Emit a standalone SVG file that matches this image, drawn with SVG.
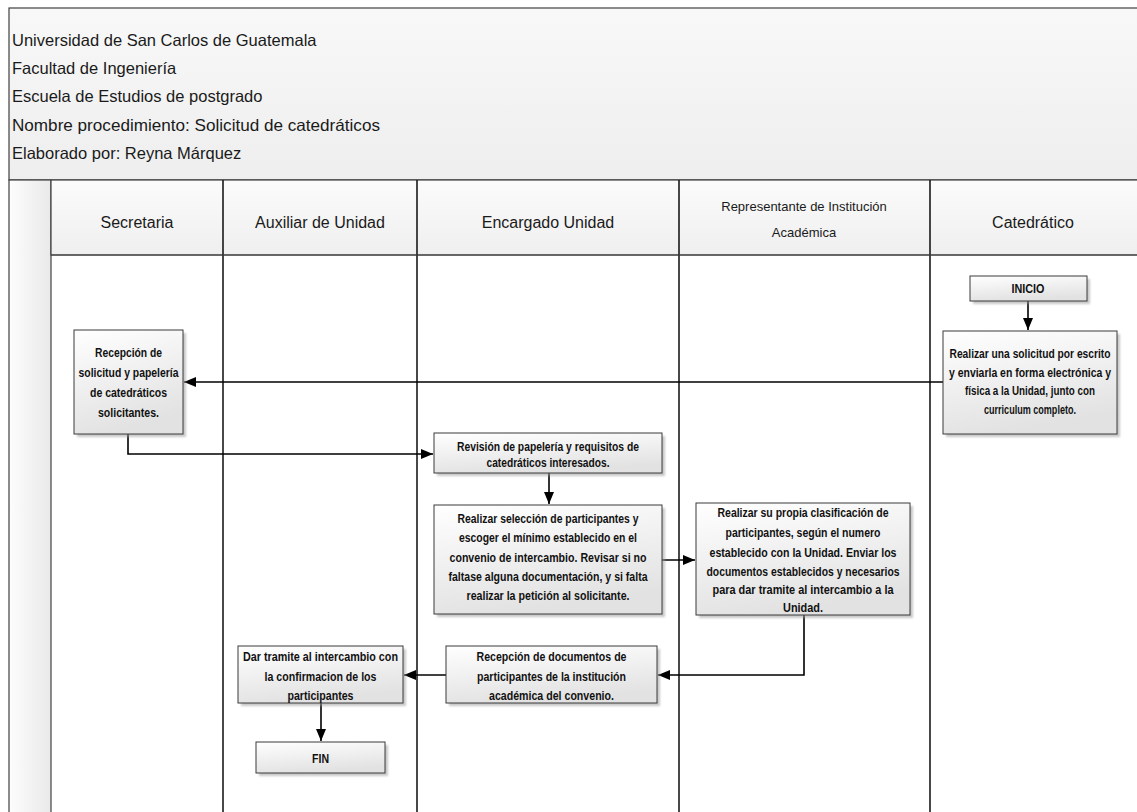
<svg xmlns="http://www.w3.org/2000/svg" width="1137" height="812" viewBox="0 0 1137 812">
<style>
.title{font-family:"Liberation Sans",Arial,sans-serif;font-size:16.5px;fill:#1a1a1a}
.lane{font-family:"Liberation Sans",Arial,sans-serif;font-size:16px;fill:#1a1a1a;text-anchor:middle}
.lanes{font-family:"Liberation Sans",Arial,sans-serif;font-size:13px;fill:#1a1a1a;text-anchor:middle}
.box{fill:url(#boxg);stroke:#3a3a3a;stroke-width:1}
.shadow{fill:#9a9a9a;opacity:.55;filter:url(#blur)}
.t{font-family:"Liberation Sans",Arial,sans-serif;font-size:12.5px;font-weight:bold;fill:#111;text-anchor:middle}
.lline{stroke:#1a1a1a;stroke-width:1.6;fill:none}
.bline{stroke:#444;stroke-width:1;fill:none}
.conn{stroke:#000;stroke-width:1.6;fill:none}
</style>
<defs>
<linearGradient id="boxg" x1="0" y1="0" x2="0.3" y2="1">
<stop offset="0" stop-color="#ffffff"/>
<stop offset="1" stop-color="#e2e2e2"/>
</linearGradient>
<linearGradient id="titleg" x1="0" y1="0" x2="0" y2="1">
<stop offset="0" stop-color="#f8f8f8"/>
<stop offset="1" stop-color="#eeeeee"/>
</linearGradient>
<linearGradient id="headg" x1="0" y1="0" x2="0" y2="1">
<stop offset="0" stop-color="#fbfbfb"/>
<stop offset="1" stop-color="#efefef"/>
</linearGradient>
<linearGradient id="stripg" x1="0" y1="0" x2="1" y2="0">
<stop offset="0" stop-color="#fdfdfd"/>
<stop offset="1" stop-color="#e9e9e9"/>
</linearGradient>
<filter id="blur" x="-10%" y="-10%" width="130%" height="130%">
<feGaussianBlur stdDeviation="1.2"/>
</filter>
<marker id="arr" viewBox="0 0 12 10" refX="12" refY="5" markerWidth="12" markerHeight="10" markerUnits="userSpaceOnUse" orient="auto">
<path d="M0,0 L12,5 L0,10 z" fill="#000"/>
</marker>
</defs>

<rect x="0" y="0" width="1137" height="812" fill="#ffffff"/>

<g id="frame">
<rect x="9" y="8" width="1140" height="172" fill="url(#titleg)" stroke="#404040" stroke-width="1.2"/>
<rect x="9" y="180" width="42" height="640" fill="url(#stripg)" stroke="#404040" stroke-width="1.2"/>
<rect x="51" y="180" width="1100" height="75" fill="url(#headg)" stroke="#404040" stroke-width="1.2"/>
<text class="title" x="12" y="46">Universidad de San Carlos de Guatemala</text>
<text class="title" x="12" y="74">Facultad de Ingeniería</text>
<text class="title" x="12" y="102">Escuela de Estudios de postgrado</text>
<text class="title" x="12" y="131" textLength="368" lengthAdjust="spacingAndGlyphs">Nombre procedimiento: Solicitud de catedráticos</text>
<text class="title" x="12" y="159">Elaborado por: Reyna Márquez</text>
</g>

<g id="lanes">
<line class="lline" x1="223" y1="180" x2="223" y2="812"/>
<line class="lline" x1="417" y1="180" x2="417" y2="812"/>
<line class="lline" x1="679" y1="180" x2="679" y2="812"/>
<line class="lline" x1="930" y1="180" x2="930" y2="812"/>
<line class="bline" x1="51" y1="255" x2="1137" y2="255"/>
<text class="lane" x="137" y="228">Secretaria</text>
<text class="lane" x="320" y="228">Auxiliar de Unidad</text>
<text class="lane" x="548" y="228">Encargado Unidad</text>
<text class="lanes" x="804" y="211">Representante de Institución</text>
<text class="lanes" x="804" y="237">Académica</text>
<text class="lane" x="1033" y="228">Catedrático</text>
</g>

<g id="connectors">
<line class="conn" x1="1028" y1="301" x2="1028" y2="330" marker-end="url(#arr)"/>
<line class="conn" x1="943" y1="382" x2="184" y2="382" marker-end="url(#arr)"/>
<polyline class="conn" points="128,434 128,454 433,454" marker-end="url(#arr)"/>
<line class="conn" x1="549" y1="473" x2="549" y2="504" marker-end="url(#arr)"/>
<line class="conn" x1="662" y1="560" x2="695" y2="560" marker-end="url(#arr)"/>
<polyline class="conn" points="804,615 804,675 658,675" marker-end="url(#arr)"/>
<line class="conn" x1="446" y1="675" x2="404" y2="675" marker-end="url(#arr)"/>
<line class="conn" x1="321" y1="703" x2="321" y2="741" marker-end="url(#arr)"/>
</g>

<g id="inicio">
<rect class="shadow" x="973" y="279" width="117" height="25"/>
<rect class="box" x="970" y="276" width="117" height="25"/>
<text class="t" x="1028" y="293" textLength="33" lengthAdjust="spacingAndGlyphs">INICIO</text>
</g>

<g id="solicitud">
<rect class="shadow" x="946" y="334" width="174" height="103"/>
<rect class="box" x="943" y="331" width="174" height="103"/>
<text class="t" x="1030" y="358" textLength="161" lengthAdjust="spacingAndGlyphs">Realizar una solicitud por escrito</text>
<text class="t" x="1030" y="377" textLength="162" lengthAdjust="spacingAndGlyphs">y enviarla en forma electrónica y</text>
<text class="t" x="1030" y="395" textLength="130" lengthAdjust="spacingAndGlyphs">física a la Unidad, junto con</text>
<text class="t" x="1030" y="414" textLength="92" lengthAdjust="spacingAndGlyphs">curriculum completo.</text>
</g>

<g id="recepcion">
<rect class="shadow" x="77" y="333" width="109" height="104"/>
<rect class="box" x="74" y="330" width="109" height="104"/>
<text class="t" x="128.5" y="357" textLength="67" lengthAdjust="spacingAndGlyphs">Recepción de</text>
<text class="t" x="128.5" y="377" textLength="100" lengthAdjust="spacingAndGlyphs">solicitud y papelería</text>
<text class="t" x="128.5" y="397" textLength="77" lengthAdjust="spacingAndGlyphs">de catedráticos</text>
<text class="t" x="128.5" y="417" textLength="61" lengthAdjust="spacingAndGlyphs">solicitantes.</text>
</g>

<g id="revision">
<rect class="shadow" x="437" y="436" width="228" height="40"/>
<rect class="box" x="434" y="433" width="228" height="40"/>
<text class="t" x="548" y="451" textLength="182" lengthAdjust="spacingAndGlyphs">Revisión de papelería y requisitos de</text>
<text class="t" x="548" y="467" textLength="123" lengthAdjust="spacingAndGlyphs">catedráticos  interesados.</text>
</g>

<g id="seleccion">
<rect class="shadow" x="437" y="508" width="228" height="109"/>
<rect class="box" x="434" y="505" width="228" height="109"/>
<text class="t" x="548" y="523" textLength="181" lengthAdjust="spacingAndGlyphs">Realizar selección de participantes y</text>
<text class="t" x="548" y="542" textLength="178" lengthAdjust="spacingAndGlyphs">escoger el mínimo establecido en el</text>
<text class="t" x="548" y="562" textLength="197" lengthAdjust="spacingAndGlyphs">convenio de intercambio. Revisar si no</text>
<text class="t" x="548" y="581" textLength="199" lengthAdjust="spacingAndGlyphs">faltase alguna documentación, y si falta</text>
<text class="t" x="548" y="600" textLength="163" lengthAdjust="spacingAndGlyphs">realizar la petición al solicitante.</text>
</g>

<g id="clasificacion">
<rect class="shadow" x="699" y="506" width="214" height="112"/>
<rect class="box" x="696" y="503" width="214" height="112"/>
<text class="t" x="803" y="517" textLength="171" lengthAdjust="spacingAndGlyphs">Realizar su propia clasificación de</text>
<text class="t" x="803" y="537" textLength="155" lengthAdjust="spacingAndGlyphs">participantes, según el numero</text>
<text class="t" x="803" y="557" textLength="187" lengthAdjust="spacingAndGlyphs">establecido con la Unidad.  Enviar los</text>
<text class="t" x="803" y="576" textLength="193" lengthAdjust="spacingAndGlyphs">documentos establecidos y necesarios</text>
<text class="t" x="803" y="594" textLength="181" lengthAdjust="spacingAndGlyphs">para dar tramite al intercambio a la</text>
<text class="t" x="803" y="612" textLength="40" lengthAdjust="spacingAndGlyphs">Unidad.</text>
</g>

<g id="recepcion-docs">
<rect class="shadow" x="449" y="649" width="211" height="57"/>
<rect class="box" x="446" y="646" width="211" height="57"/>
<text class="t" x="551.5" y="661" textLength="150" lengthAdjust="spacingAndGlyphs">Recepción  de documentos de</text>
<text class="t" x="551.5" y="681" textLength="149" lengthAdjust="spacingAndGlyphs">participantes de la institución</text>
<text class="t" x="551.5" y="700" textLength="125" lengthAdjust="spacingAndGlyphs">académica del convenio.</text>
</g>

<g id="tramite">
<rect class="shadow" x="241" y="649" width="165" height="57"/>
<rect class="box" x="238" y="646" width="165" height="57"/>
<text class="t" x="320.5" y="661" textLength="155" lengthAdjust="spacingAndGlyphs">Dar tramite al intercambio con</text>
<text class="t" x="320.5" y="681" textLength="112" lengthAdjust="spacingAndGlyphs">la confirmacion de los</text>
<text class="t" x="320.5" y="700" textLength="66" lengthAdjust="spacingAndGlyphs">participantes</text>
</g>

<g id="fin">
<rect class="shadow" x="259" y="745" width="129" height="31"/>
<rect class="box" x="256" y="742" width="129" height="31"/>
<text class="t" x="320.5" y="763" textLength="17" lengthAdjust="spacingAndGlyphs">FIN</text>
</g>
</svg>
